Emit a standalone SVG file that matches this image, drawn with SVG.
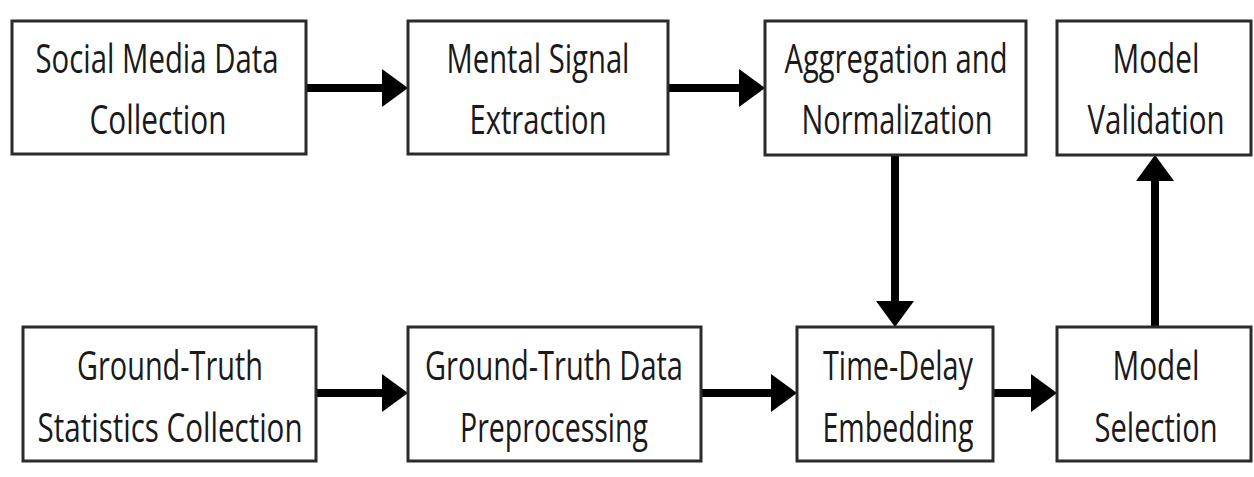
<svg xmlns="http://www.w3.org/2000/svg" width="1254" height="477" viewBox="0 0 1254 477">
<style>
.box{fill:#fff;stroke:#2b2b2b;stroke-width:3}
.t{font-family:"Open Sans","Liberation Sans",sans-serif;font-size:40px;fill:#1a1a1a;text-anchor:middle}
.c{stroke:#000;stroke-width:8;fill:none;marker-end:url(#ah)}
</style>
<defs>
<marker id="ah" markerUnits="userSpaceOnUse" markerWidth="28" markerHeight="40" refX="16" refY="19" orient="auto">
<path d="M0,0 L26,19 L0,38 Z" fill="#000"/>
</marker>
</defs>
<rect width="1254" height="477" fill="#fff"/>
<g id="connectors">
<line class="c" x1="306" y1="88" x2="398" y2="88"/>
<line class="c" x1="668" y1="88" x2="755" y2="88"/>
<line class="c" x1="895" y1="155" x2="895" y2="317"/>
<line class="c" x1="1155" y1="327" x2="1155" y2="165"/>
<line class="c" x1="316" y1="393" x2="398" y2="393"/>
<line class="c" x1="701" y1="393" x2="787" y2="393"/>
<line class="c" x1="993" y1="393" x2="1047" y2="393"/>
</g>
<g id="n1"><rect class="box" x="12" y="21" width="294" height="133"/>
<text class="t" x="157" y="73" textLength="243" lengthAdjust="spacingAndGlyphs">Social Media Data</text>
<text class="t" x="158" y="134" textLength="137" lengthAdjust="spacingAndGlyphs">Collection</text></g>
<g id="n2"><rect class="box" x="408" y="21" width="260" height="133"/>
<text class="t" x="538" y="73" textLength="183" lengthAdjust="spacingAndGlyphs">Mental Signal</text>
<text class="t" x="538" y="134" textLength="137" lengthAdjust="spacingAndGlyphs">Extraction</text></g>
<g id="n3"><rect class="box" x="765" y="21" width="261" height="134"/>
<text class="t" x="896" y="73" textLength="223" lengthAdjust="spacingAndGlyphs">Aggregation and</text>
<text class="t" x="897" y="134" textLength="191" lengthAdjust="spacingAndGlyphs">Normalization</text></g>
<g id="n4"><rect class="box" x="1057" y="21" width="194" height="134"/>
<text class="t" x="1156" y="73" textLength="87" lengthAdjust="spacingAndGlyphs">Model</text>
<text class="t" x="1156" y="134" textLength="137" lengthAdjust="spacingAndGlyphs">Validation</text></g>
<g id="n5"><rect class="box" x="23" y="327" width="293" height="134"/>
<text class="t" x="170" y="380" textLength="186" lengthAdjust="spacingAndGlyphs">Ground-Truth</text>
<text class="t" x="170" y="442" textLength="265" lengthAdjust="spacingAndGlyphs">Statistics Collection</text></g>
<g id="n6"><rect class="box" x="408" y="327" width="293" height="134"/>
<text class="t" x="554" y="380" textLength="258" lengthAdjust="spacingAndGlyphs">Ground-Truth Data</text>
<text class="t" x="554" y="442" textLength="188" lengthAdjust="spacingAndGlyphs">Preprocessing</text></g>
<g id="n7"><rect class="box" x="797" y="327" width="196" height="134"/>
<text class="t" x="898" y="380" textLength="150" lengthAdjust="spacingAndGlyphs">Time-Delay</text>
<text class="t" x="898" y="442" textLength="151" lengthAdjust="spacingAndGlyphs">Embedding</text></g>
<g id="n8"><rect class="box" x="1057" y="327" width="194" height="134"/>
<text class="t" x="1156" y="380" textLength="87" lengthAdjust="spacingAndGlyphs">Model</text>
<text class="t" x="1156" y="442" textLength="123" lengthAdjust="spacingAndGlyphs">Selection</text></g>
</svg>
